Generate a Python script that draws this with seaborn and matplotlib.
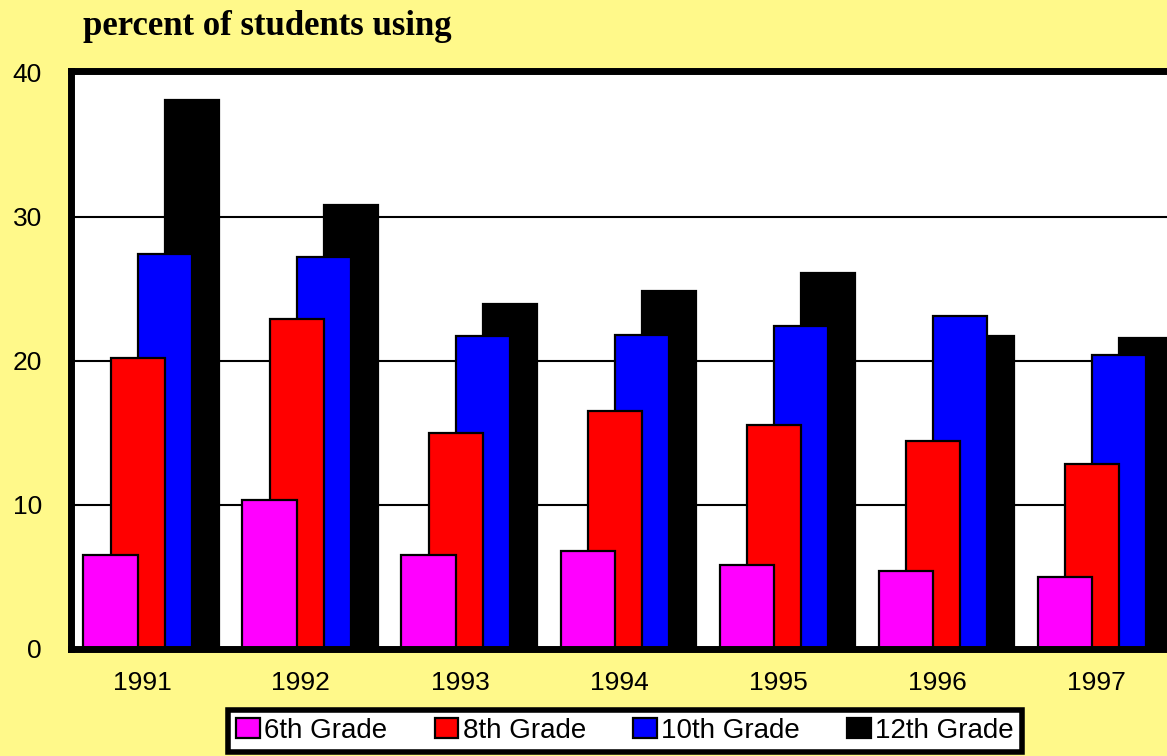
import numpy as np
import matplotlib
matplotlib.use("Agg")
import matplotlib.pyplot as plt
import seaborn as sns

# ---- data ----
years = ["1991", "1992", "1993", "1994", "1995", "1996", "1997"]
grade6 = [6.5, 10.3, 6.5, 6.8, 5.8, 5.4, 5.0]
grade8 = [20.2, 22.9, 15.0, 16.5, 15.5, 14.4, 12.8]
grade10 = [27.4, 27.2, 21.7, 21.8, 22.4, 23.1, 20.4]
grade12 = [38.1, 30.8, 23.9, 24.8, 26.1, 21.7, 21.6]
series_names = ["6th Grade", "8th Grade", "10th Grade", "12th Grade"]
y_ticks = [0, 10, 20, 30, 40]
title = "percent of students using"

# ---- style ----
BG = "#fff98a"
colors = ["#ff00ff", "#ff0000", "#0000ff", "#000000"]
sans = ["Liberation Sans", "DejaVu Sans"]

sns.set_theme(style="white")
plt.rcParams["font.family"] = sans

W, H = 1167, 756
fig = plt.figure(figsize=(W / 100, H / 100), dpi=100, facecolor=BG)
ax_left, ax_top, ax_bot = 71, 70.5, 648.5
ax = fig.add_axes([ax_left / W, 1 - ax_bot / H, 1 - ax_left / W, (ax_bot - ax_top) / H])
ax.set_facecolor("white")

bar_w = 0.342
step = 0.171
values = [grade6, grade8, grade10, grade12]
pos = np.arange(len(years))

# draw back (12th) to front (6th)
for k in [3, 2, 1, 0]:
    sns.barplot(x=pos + (k - 1.5) * step, y=values[k], native_scale=True,
                width=bar_w, color=colors[k], saturation=1,
                edgecolor="black", linewidth=1.6, errorbar=None,
                label=series_names[k], ax=ax)

ax.set_xlim(-0.506, (W - 151.5) / 159)
ax.set_ylim(0, 40.15)
ax.set_xticks(pos - 0.06)
ax.set_xticklabels(years)
ax.set_yticks(y_ticks)
ax.set_yticklabels([str(v) for v in y_ticks])
ax.set_xlabel("")
ax.set_ylabel("")

ax.set_axisbelow(True)
ax.yaxis.grid(True, color="black", linewidth=1.5)
ax.xaxis.grid(False)

for s in ["left", "top", "bottom"]:
    ax.spines[s].set_visible(True)
    ax.spines[s].set_color("black")
    ax.spines[s].set_linewidth(5)
ax.spines["right"].set_visible(False)

ax.tick_params(axis="y", length=0, pad=21, labelsize=19, labelcolor="black")
ax.tick_params(axis="x", length=0, pad=16, labelsize=19, labelcolor="black")

fig.text(83 / W, 1 - 35 / H, title, ha="left", va="baseline",
         fontsize=25, fontweight="bold", family=["Liberation Serif", "DejaVu Serif"],
         color="black")

handles, labels = ax.get_legend_handles_labels()
order = [labels.index(n) for n in series_names]
if ax.legend_:
    ax.legend_.remove()
leg = fig.legend([handles[i] for i in order], [labels[i] for i in order],
                 loc="center", bbox_to_anchor=(228 / W, 2 / H, 794 / W, 46 / H),
                 bbox_transform=fig.transFigure, mode="expand", ncol=4,
                 frameon=True, fancybox=False, edgecolor="black", facecolor="white",
                 framealpha=1, borderaxespad=0, borderpad=0.3,
                 handlelength=0.85, handleheight=0.75, handletextpad=0.15,
                 prop={"family": sans, "size": 20})
leg.get_frame().set_linewidth(4)
for t in leg.get_texts():
    t.set_color("black")

fig.savefig("out.png", dpi=100, facecolor=BG)
